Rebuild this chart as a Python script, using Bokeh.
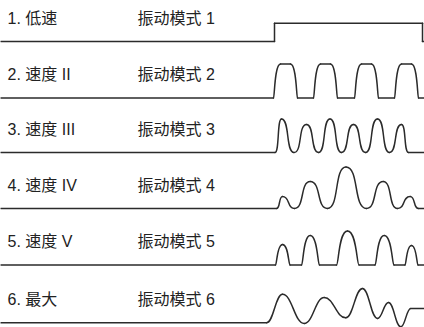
from bokeh.plotting import figure
from bokeh.models import Range1d, ColumnDataSource
from bokeh.core.properties import value
from bokeh.embed import file_html
from bokeh.resources import INLINE

# ---------------- data ----------------
speed_labels = ["1. 低速", "2. 速度 II", "3. 速度 III", "4. 速度 IV", "5. 速度 V", "6. 最大"]
mode_labels = ["振动模式 1", "振动模式 2", "振动模式 3", "振动模式 4", "振动模式 5", "振动模式 6"]

# waveform key points: time position and amplitude above the row's baseline
wave1_t = [0, 274, 274, 422, 422, 424]
wave1_a = [0, 0, 18.3, 18.3, 0, 0]

wave2_t = [0, 273, 280, 290, 297, 313, 320, 330, 337, 354, 361, 371, 378, 394, 401, 411, 418, 424]
wave2_a = [0, 0, 34, 34, 0, 0, 34, 34, 0, 0, 34, 34, 0, 0, 34, 34, 0, 0]

wave3_t = [0, 274.5, 281, 293.5, 306, 318, 329.5, 341, 353, 365, 377, 389, 401, 408, 424]
wave3_a = [0, 0, 33.5, 0, 28, 0, 33.5, 0, 28, 0, 33.5, 0, 28, 0, 0]

wave4_t = [0, 276, 282, 294, 309.7, 327, 345.5, 366, 382.7, 397, 409.7, 418, 424]
wave4_a = [0, 0, 12, 0, 27, 0, 41.5, 0, 27, 0, 12, 0, 0]

wave5_t = [0, 275, 282, 289.5, 301, 309.7, 319, 336, 347, 358.5, 374.5, 383.7, 393.5, 404.5, 411, 417.5, 424]
wave5_a = [0, 0, 20.5, 0, 0, 29.5, 0, 0, 34, 0, 0, 29.5, 0, 0, 19.5, 0, 0]

wave6_t = [0, 266, 282, 303.7, 323.7, 345.3, 362, 377, 388, 400.3, 410.3, 424]
wave6_a = [0, 0, 28.5, -0.7, 25.3, 5, 34.3, 4.3, 20.3, -4, 14.3, 14.3]

waves = [(wave1_t, wave1_a), (wave2_t, wave2_a), (wave3_t, wave3_a),
         (wave4_t, wave4_a), (wave5_t, wave5_a), (wave6_t, wave6_a)]

# ---------------- layout / style ----------------
W, H = 424, 327
row_base = [41, 97.5, 152, 208, 264.5, 322.3]
# (low-end control fraction, high-end control fraction) per row
row_shape = [(0.0, 0.0), (0.15, 0.85), (0.68, 0.68), (0.65, 0.65), (0.2, 0.8), (0.45, 0.45)]
LINE_COLOR = "#2b2b2b"
TEXT_COLOR = "#222222"
FONT = value("Liberation Sans, Noto Sans CJK SC")

p = figure(width=W, height=H, output_backend="svg", toolbar_location=None,
           x_range=Range1d(0, W), y_range=Range1d(H, 0),
           x_axis_location=None, y_axis_location=None, min_border=0)
p.grid.visible = False
p.outline_line_color = None
p.background_fill_color = "white"
p.border_fill_color = "white"

for i, (t, a) in enumerate(waves):
    base = row_base[i]
    kl, kh = row_shape[i]
    d = dict(x0=[], y0=[], x1=[], y1=[], cx0=[], cy0=[], cx1=[], cy1=[])
    for j in range(len(t) - 1):
        x0, x1 = t[j], t[j + 1]
        a0, a1 = a[j], a[j + 1]
        dx = x1 - x0
        if a0 < a1:
            k0, k1 = kl, kh
        elif a0 > a1:
            k0, k1 = kh, kl
        else:
            k0, k1 = 0.33, 0.33
        y0, y1 = base - a0, base - a1
        d["x0"].append(x0); d["y0"].append(y0)
        d["x1"].append(x1); d["y1"].append(y1)
        d["cx0"].append(x0 + k0 * dx); d["cy0"].append(y0)
        d["cx1"].append(x1 - k1 * dx); d["cy1"].append(y1)
    p.bezier(x0="x0", y0="y0", x1="x1", y1="y1", cx0="cx0", cy0="cy0", cx1="cx1", cy1="cy1",
             source=ColumnDataSource(d), line_color=LINE_COLOR, line_width=1.5,
             line_cap="round", line_join="round")

text_y = [b - 23.5 for b in row_base]
p.text(x=[7] * 6, y=text_y, text=speed_labels, text_font=FONT, text_font_size="16px",
       text_color=TEXT_COLOR, text_baseline="middle", text_align="left")
p.text(x=[137] * 6, y=text_y, text=mode_labels, text_font=FONT, text_font_size="16px",
       text_color=TEXT_COLOR, text_baseline="middle", text_align="left")

open("out.html", "w").write(file_html(p, INLINE))
